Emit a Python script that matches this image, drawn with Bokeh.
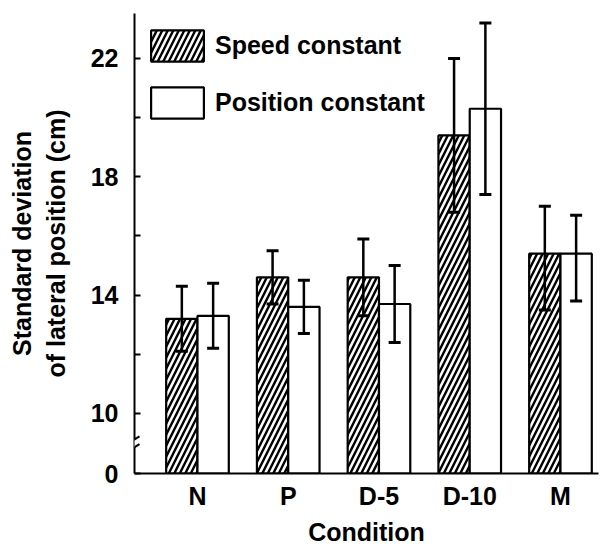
from bokeh.plotting import figure
from bokeh.models import (ColumnDataSource, FixedTicker, Whisker, TeeHead, Legend,
                          LegendItem, BoxAnnotation, Arrow, Range1d)
from bokeh.embed import file_html
from bokeh.resources import INLINE

# ---- data ----
conditions = ["N", "P", "D-5", "D-10", "M"]
speed_mean = [13.2, 14.6, 14.6, 19.4, 15.4]
speed_lo = [12.1, 13.7, 13.3, 16.8, 13.5]
speed_hi = [14.3, 15.5, 15.9, 22.0, 17.0]
pos_mean = [13.3, 13.6, 13.7, 20.3, 15.4]
pos_lo = [12.2, 12.7, 12.4, 17.4, 13.8]
pos_hi = [14.4, 14.5, 15.0, 23.2, 16.7]
y_ticks = [10, 12, 14, 16, 18, 20, 22]
y_tick_labels = ["10", "", "14", "", "18", "", "22"]
zero_label = "0"

# axis break: the value 0 is drawn at this (compressed) position
ZERO_POS = 7.97
Y_TOP = 23.52
X_START, X_END = 0.306, 5.419
BAR_W = 0.345

FONT = "Liberation Sans"
FS = "25px"

xs = list(range(1, len(conditions) + 1))
src_s = ColumnDataSource(dict(x=[x - BAR_W / 2 for x in xs], top=speed_mean,
                              lo=speed_lo, hi=speed_hi))
src_p = ColumnDataSource(dict(x=[x + BAR_W / 2 for x in xs], top=pos_mean,
                              lo=pos_lo, hi=pos_hi))

p = figure(width=604, height=550, output_backend="svg", toolbar_location=None,
           x_range=Range1d(X_START, X_END), y_range=Range1d(ZERO_POS, Y_TOP),
           min_border_left=134, min_border_right=6, min_border_top=13,
           min_border_bottom=77)
p.outline_line_color = None
p.grid.visible = False
p.background_fill_color = "white"

r_s = p.vbar(x="x", top="top", bottom=ZERO_POS, width=BAR_W, source=src_s,
             fill_color="white", line_color="black", line_width=2.2,
             hatch_pattern="/", hatch_color="black", hatch_scale=11,
             hatch_weight=2.4)
r_p = p.vbar(x="x", top="top", bottom=ZERO_POS, width=BAR_W, source=src_p,
             fill_color="white", line_color="black", line_width=2.2)

for src in (src_s, src_p):
    w = Whisker(base="x", upper="hi", lower="lo", source=src, level="annotation",
                line_color="black", line_width=2.5,
                upper_head=TeeHead(size=12, line_width=3, line_color="black"),
                lower_head=TeeHead(size=12, line_width=3, line_color="black"))
    p.add_layout(w)

# legend
legend = Legend(items=[LegendItem(label="Speed constant", renderers=[r_s]),
                       LegendItem(label="Position constant", renderers=[r_p])],
                location=(10, 351), orientation="vertical",
                glyph_width=66, glyph_height=39, label_height=39, spacing=18,
                padding=0, margin=0, label_standoff=5,
                label_text_font=FONT, label_text_font_size=FS,
                label_text_font_style="bold", label_text_color="black",
                border_line_color=None, background_fill_alpha=0)
p.add_layout(legend, "center")

# y axis
yax = p.yaxis[0]
yax.ticker = FixedTicker(ticks=[ZERO_POS] + y_ticks, minor_ticks=[])
overrides = {ZERO_POS: zero_label}
for t, lab in zip(y_ticks, y_tick_labels):
    overrides[t] = lab
yax.major_label_overrides = overrides
yax.axis_line_width = 2
yax.axis_line_color = "black"
yax.major_tick_in = 6
yax.major_tick_out = 0
yax.major_tick_line_width = 2
yax.major_label_standoff = 16
yax.major_label_text_font = FONT
yax.major_label_text_font_size = FS
yax.major_label_text_font_style = "bold"
yax.major_label_text_color = "black"
yax.axis_label = "Standard deviation\nof lateral position (cm)"
yax.axis_label_text_font = FONT
yax.axis_label_text_font_size = FS
yax.axis_label_text_font_style = "bold"
yax.axis_label_text_color = "black"
yax.axis_label_standoff = 18

# x axis
xax = p.xaxis[0]
xax.ticker = FixedTicker(ticks=xs, minor_ticks=[])
xax.major_label_overrides = {x: c for x, c in zip(xs, conditions)}
xax.axis_line_width = 2
xax.axis_line_color = "black"
xax.major_tick_line_color = None
xax.major_tick_in = 0
xax.major_tick_out = 0
xax.major_label_standoff = 8
xax.major_label_text_font = FONT
xax.major_label_text_font_size = FS
xax.major_label_text_font_style = "bold"
xax.major_label_text_color = "black"
xax.axis_label = "Condition"
xax.axis_label_text_font = FONT
xax.axis_label_text_font_size = FS
xax.axis_label_text_font_style = "bold"
xax.axis_label_text_color = "black"
xax.axis_label_standoff = 5

# axis break marks on the y axis
px = (X_END - X_START) / 464.0
py = (Y_TOP - ZERO_POS) / 460.0
p.add_layout(BoxAnnotation(left=X_START - 5 * px, right=X_START + 3 * px,
                           bottom=8.86, top=9.12, fill_color="white",
                           fill_alpha=1, line_color=None, level="overlay"))
for yc in (8.86, 9.12):
    p.add_layout(Arrow(end=None, x_start=X_START - 5 * px, y_start=yc - 3 * py,
                       x_end=X_START + 5 * px, y_end=yc + 3 * py,
                       line_color="black", line_width=2, level="overlay"))

open("out.html", "w").write(file_html(p, INLINE))
